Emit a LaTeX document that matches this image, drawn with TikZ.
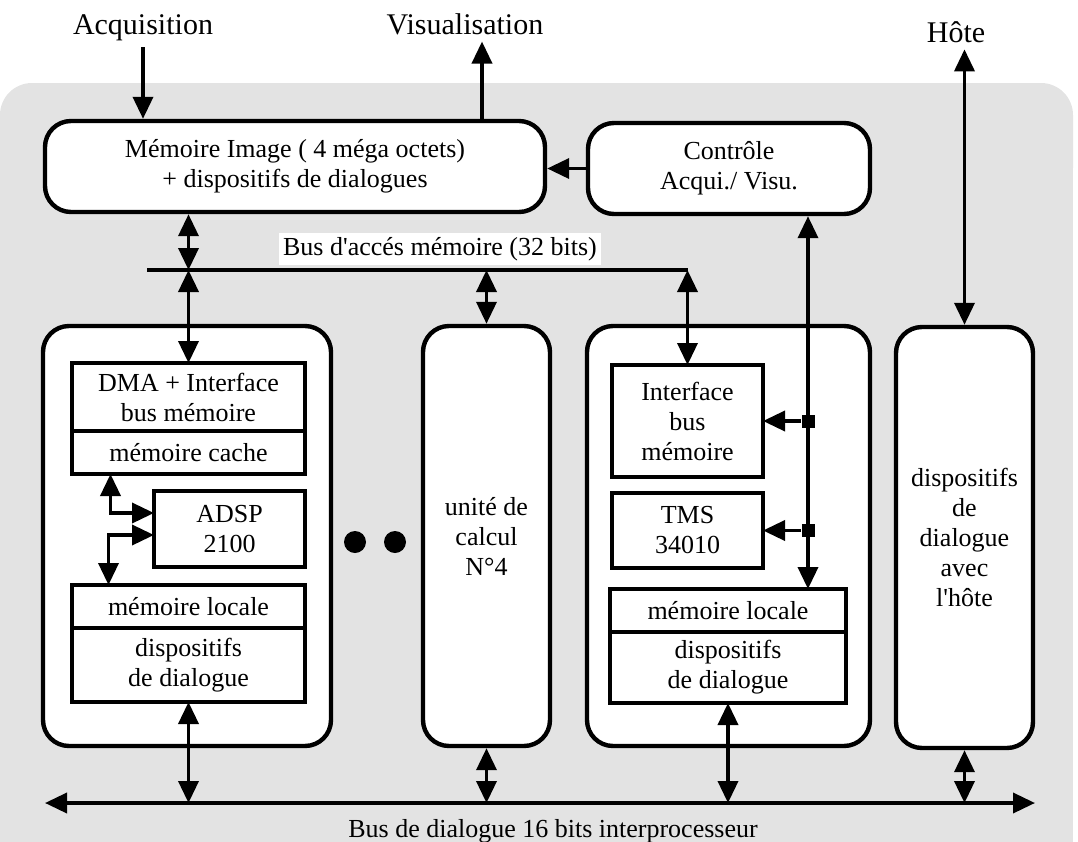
\documentclass[tikz,border=0pt]{standalone}
\usepackage{fontspec}
\setmainfont{Liberation Serif}
\usetikzlibrary{arrows.meta,positioning}

\begin{document}
\begin{tikzpicture}[%
  x=0.5pt, y=-0.5pt,
  >={Triangle[length=11pt,width=10pt]},
  every node/.style = {font=\fontsize{13}{15}\selectfont},
  unit/.style  = {draw, fill=white, line width=2.2pt, rounded corners=13pt,
                  inner sep=0pt, align=center},
  cell/.style  = {draw, fill=white, line width=1.6pt, inner sep=0pt,
                  outer sep=0pt, align=center},
  link/.style  = {line width=1.8pt},
  tap/.style   = {fill, minimum size=6.5pt, inner sep=0pt},
  dot/.style   = {circle, fill, minimum size=11pt, inner sep=0pt},
  title/.style = {anchor=base, font=\fontsize{15}{17}\selectfont},
]
  \useasboundingbox (0,0) rectangle (1078,842);
  \fill[black!11] (0,842) rectangle (1073,130);
  \fill[black!11, rounded corners=16pt] (0,83) rectangle (1073,200);

  % top labels
  \node[title] (acq)  at (143,34) {Acquisition};
  \node[title] (vis)  at (465,34) {Visualisation};
  \node[title] (host) at (956,42) {Hôte};

  \node[unit, minimum width=250pt, minimum height=45.5pt] (mem) at (295,166.5)
    {Mémoire Image ( 4 méga octets)\\+ dispositifs de dialogues};
  \node[unit, minimum width=141pt, minimum height=45.5pt] (ctrl) at (729,168.5)
    {Contrôle\\Acqui./ Visu.};

  % cartes
  \node[unit, minimum width=144pt, minimum height=210pt] (procA) at (187,536) {};
  \node[unit, minimum width=63.5pt, minimum height=210pt] (unite) at (486.5,536)
    {unité de\\calcul\\N°4};
  \node[unit, minimum width=141.5pt, minimum height=210pt] (procB) at (728.5,536) {};
  \node[unit, minimum width=68.5pt, minimum height=210.5pt] (hbox) at (964.5,537.5)
    {dispositifs\\de\\dialogue\\avec\\l\textquotesingle hôte};

  \node[dot] (d1) at (355,542) {};
  \node[dot] (d2) at (395,542) {};

  % carte ADSP
  \node[cell, minimum width=116.5pt, minimum height=34pt] (dma) at (188.5,397)
    {DMA + Interface\\bus mémoire};
  \node[cell, minimum width=116.5pt, minimum height=21.5pt, below=0pt of dma] (cache)
    {mémoire cache};
  \node[cell, minimum width=75.5pt, minimum height=38pt] (adsp) at (229.5,529)
    {ADSP\\2100};
  \node[cell, minimum width=116.5pt, minimum height=21.5pt] (locA) at (188.5,606.5)
    {mémoire locale};
  \node[cell, minimum width=116.5pt, minimum height=37pt, below=0pt of locA] (dispA)
    {dispositifs\\de dialogue};

  % carte TMS
  \node[cell, minimum width=75.5pt, minimum height=56pt] (ifB) at (687.5,421)
    {Interface\\bus\\mémoire};
  \node[cell, minimum width=75.5pt, minimum height=37.5pt] (tms) at (687.5,530.5)
    {TMS\\34010};
  \node[cell, minimum width=118pt, minimum height=21.5pt] (locB) at (728,610.5)
    {mémoire locale};
  \node[cell, minimum width=118pt, minimum height=35.5pt, below=0pt of locB] (dispB)
    {dispositifs\\de dialogue};

  % bus memoire
  \coordinate (busL) at (147,270);
  \coordinate (busR) at (ifB.north |- busL);
  \draw[link] (busL) -- (busR);
  \node[anchor=base, fill=white, inner sep=2pt] (busa) at (440,255)
    {Bus d\textquotesingle accés mémoire (32 bits)};

  % bus de dialogue
  \coordinate (dbL) at (45,803);
  \coordinate (dbR) at (1035,803);
  \draw[link, <->] (dbL) -- (dbR);
  \node[anchor=base] (busd) at (553,837) {Bus de dialogue 16 bits interprocesseur};

  \coordinate (visx) at ([xshift=8.5pt]vis.south);
  \coordinate (cv) at ([xshift=39.5pt]ctrl.south);

  \draw[link, ->] (acq.south) -- (acq.south |- mem.north);
  \draw[link, ->] (visx |- mem.north) -- (visx);
  \draw[link, <->] (hbox.north) -- (hbox.north |- host.south);
  \draw[link, ->] (ctrl.west) -- (ctrl.west -| mem.east);

  \draw[link, <->] (mem.south -| dma.north) -- (busL -| dma.north);
  \draw[link, <->] (busL -| dma.north) -- (dma.north);
  \draw[link, <->] (busL -| unite.north) -- (unite.north);
  \draw[link, <->] (busR) -- (ifB.north);

  \draw[link, <->] ([xshift=-39pt]cache.south) |- ([yshift=8pt]adsp.west);
  \draw[link, <->] ([yshift=-3pt]adsp.west) -| ([xshift=-40pt]locA.north);

  \draw[link, <->] (cv) -- (cv |- locB.north);
  \node[tap] (t1) at (cv |- ifB.east) {};
  \node[tap] (t2) at (cv |- tms.east) {};
  \draw[link, ->] (t1) -- (ifB.east);
  \draw[link, ->] (t2) -- (tms.east);

  \draw[link, <->] (dispA.south) -- (dispA.south |- dbL);
  \draw[link, <->] (unite.south) -- (unite.south |- dbL);
  \draw[link, <->] (dispB.south) -- (dispB.south |- dbL);
  \draw[link, <->] (hbox.south) -- (hbox.south |- dbL);
\end{tikzpicture}
\end{document}
